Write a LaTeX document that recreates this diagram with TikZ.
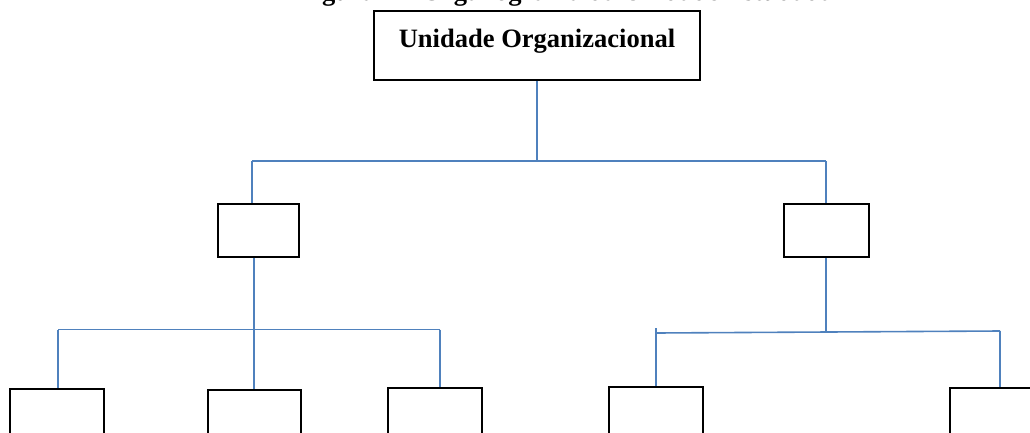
\documentclass[tikz,border=0pt]{standalone}
\usepackage{fontspec}
\setmainfont{Liberation Serif}
\definecolor{linkblue}{HTML}{4F81BD}
\begin{document}
\begin{tikzpicture}[x=0.75pt,y=-0.75pt,
  unitbox/.style={draw=black,line width=1.3pt,fill=white,inner sep=0pt},
  conn/.style={draw=linkblue,line width=1.2pt},
  heading/.style={font=\fontsize{19.9}{24}\selectfont\bfseries,inner sep=0pt}]
\useasboundingbox (0,0) rectangle (1030,432);

% title line (its upper part lies above the page)
\node[heading,anchor=base] (title) at (566,0.5) {Figura 1 – Organograma da Unidade Estudada};

% top unit
\node[unitbox,heading,minimum width=326*0.75pt,minimum height=69*0.75pt,
      text height=14pt,text depth=11.75pt] (top) at (537,45.5) {Unidade Organizacional};

% second level
\node[unitbox,minimum width=81*0.75pt,minimum height=53*0.75pt] (m1) at (258.5,230.5) {};
\node[unitbox,minimum width=85*0.75pt,minimum height=53*0.75pt] (m2) at (826.5,230.5) {};

% third level
\node[unitbox,minimum width=94*0.75pt,minimum height=82*0.75pt] (b1) at (57,430) {};
\node[unitbox,minimum width=93*0.75pt,minimum height=82*0.75pt] (b2) at (254.5,431) {};
\node[unitbox,minimum width=94*0.75pt,minimum height=82*0.75pt] (b3) at (435,429) {};
\node[unitbox,minimum width=94*0.75pt,minimum height=82*0.75pt] (b4) at (656,428) {};
\node[unitbox,minimum width=94*0.75pt,minimum height=82*0.75pt] (b5) at (997,429) {};

% junction points
\coordinate (j0) at (537,161);
\coordinate (jl) at (252,161);
\coordinate (jr) at (826,161);
\coordinate (k0) at (254,329.5);
\coordinate (kl) at (58,329.5);
\coordinate (kr) at (440,329.5);
\coordinate (r0) at (826,332);
\coordinate (rl) at (656,333);
\coordinate (rlt) at (656,328);
\coordinate (rr) at (1000,331);

% connectors
\draw[conn] (top.south) -- (j0);
\draw[conn] (jl) -- (jr);
\draw[conn] (jl) -- (jl |- m1.north);
\draw[conn] (jr) -- (jr |- m2.north);

\draw[conn] (m1.south -| k0) -- (k0);
\draw[conn] (kl) -- (kr);
\draw[conn] (kl) -- (kl |- b1.north);
\draw[conn] (k0) -- (k0 |- b2.north);
\draw[conn] (kr) -- (kr |- b3.north);

\draw[conn] (m2.south -| r0) -- (r0);
\draw[conn] (rl) -- (rr);
\draw[conn] (rlt) -- (rlt |- b4.north);
\draw[conn] (rr) -- (rr |- b5.north);
\end{tikzpicture}
\end{document}
